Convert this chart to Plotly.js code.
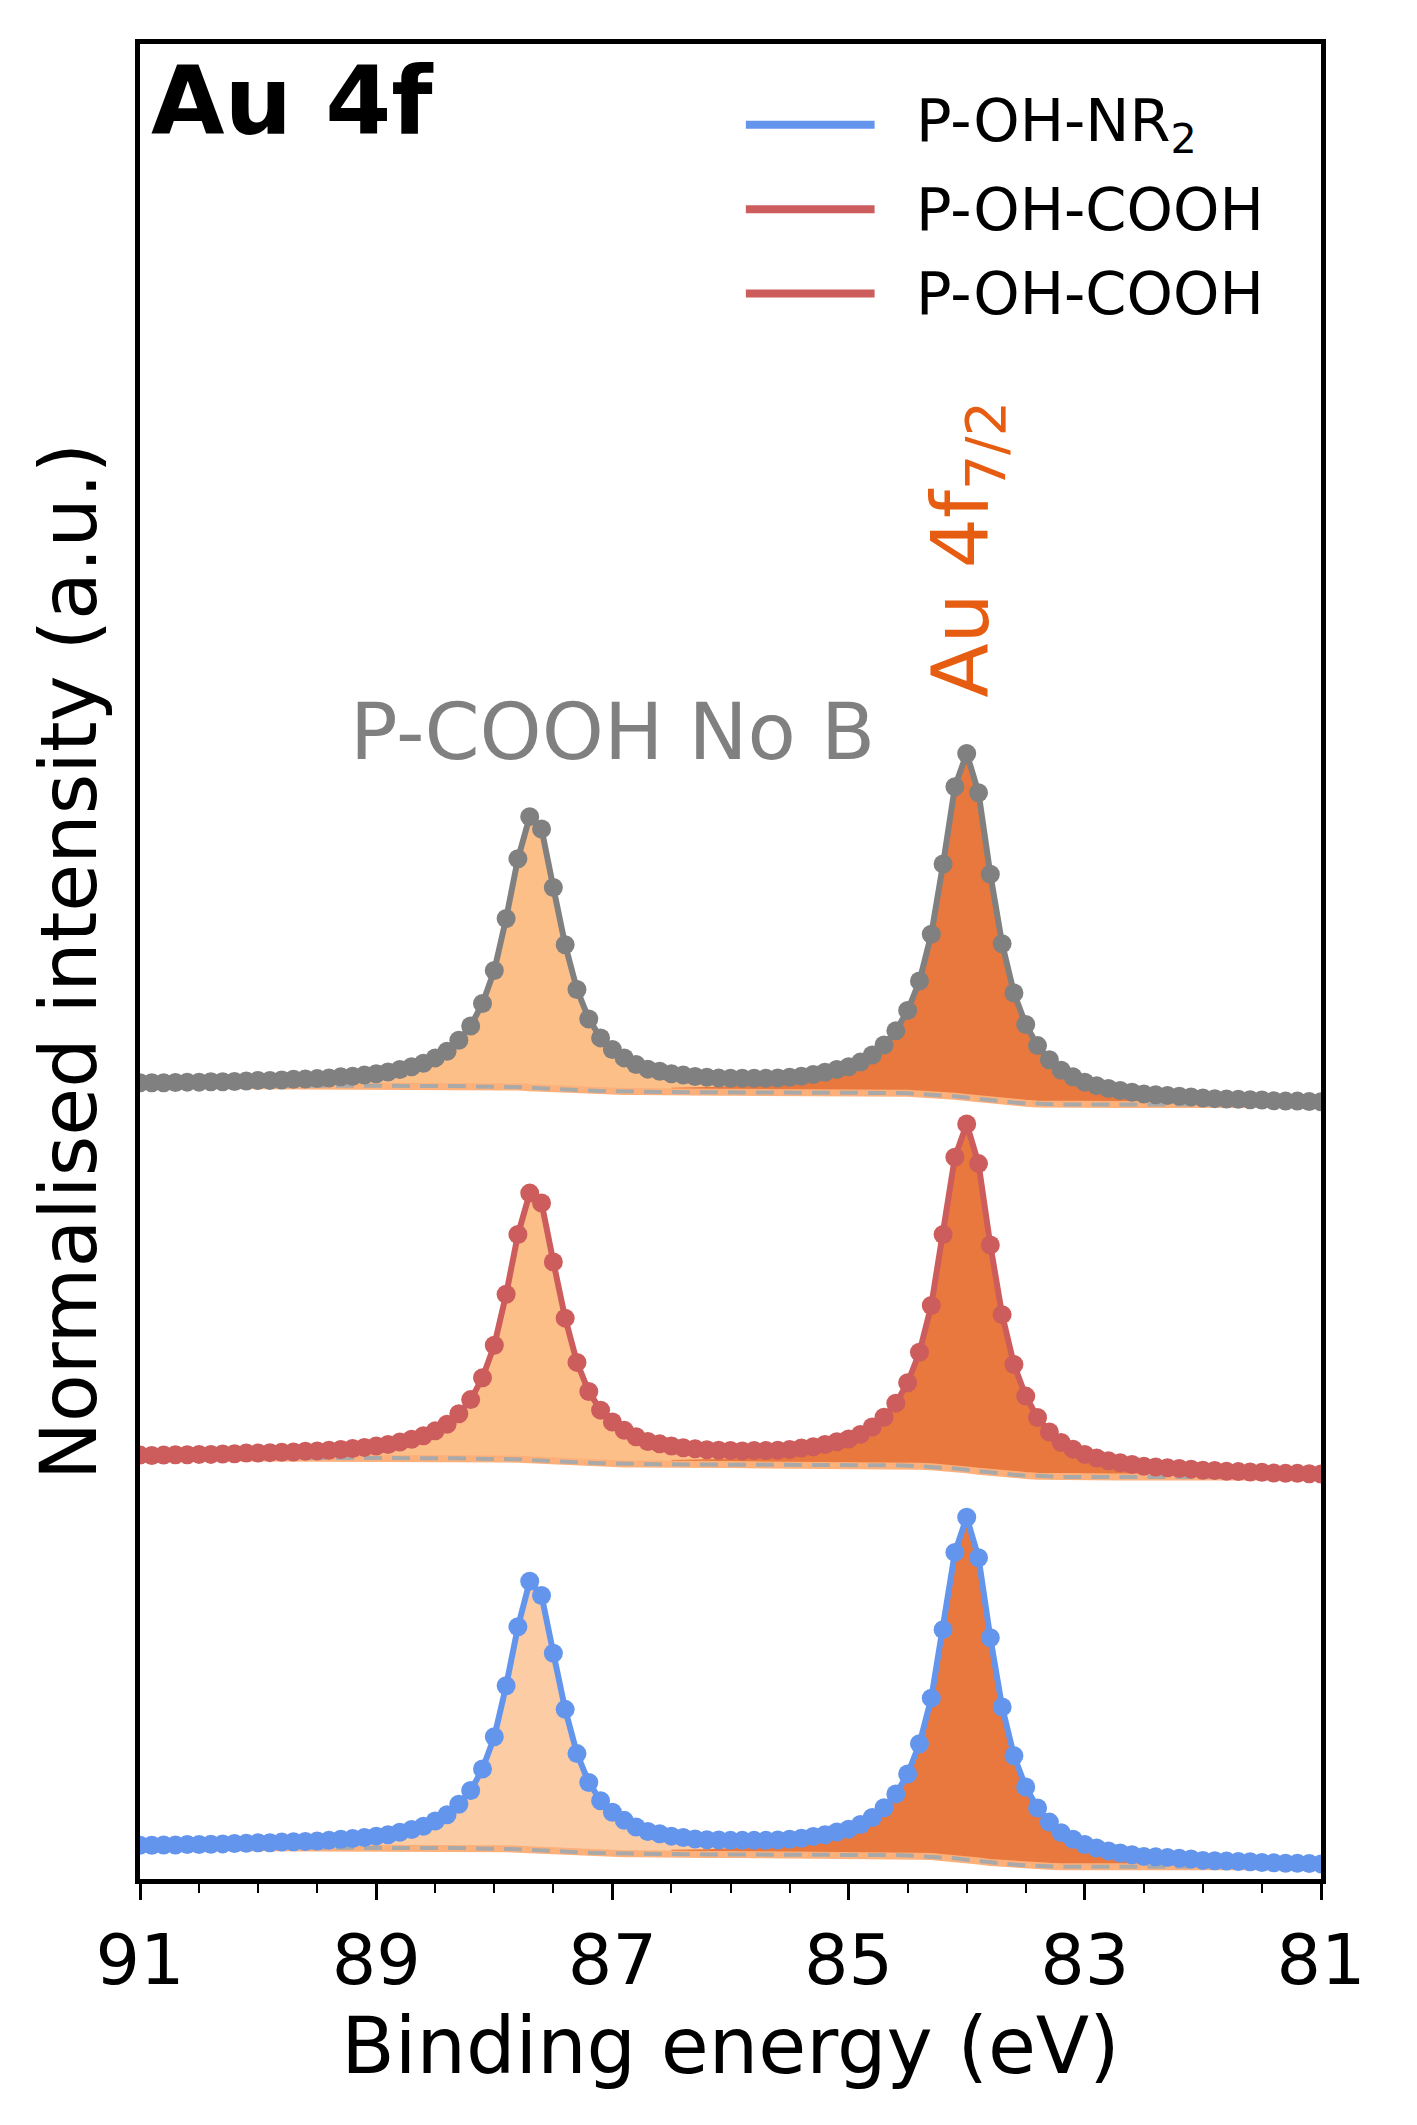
<!DOCTYPE html>
<html>
<head>
<meta charset="utf-8">
<script src="https://cdn.plot.ly/plotly-3.0.1.min.js"></script>
<style>body{margin:0;background:#fff}#plot{width:1417px;height:2125px}</style>
</head>
<body>
<div id="plot"></div>
<script>
// Binding energy grid, 91.0 -> 81.0 eV in 0.1 eV steps
const energy = Array.from({length: 101}, (_, i) => +(91 - i * 0.1).toFixed(1));

const seriesNames = ['P-OH-NR<sub>2</sub>', 'P-OH-COOH', 'P-OH-COOH'];
const seriesColors = ['#6495ed', '#cd5c5c', '#808080'];
const legendColors = ['#6495ed', '#cd5c5c', '#cd5c5c'];
const offsets = [0, 1.11, 2.17];

const dataNR2 = [
  .061,.061,.062,.062,.063,.063,.064,.065,.066,.067,
  .068,.068,.070,.071,.072,.073,.075,.078,.080,.083,
  .087,.091,.098,.106,.115,.130,.148,.178,.217,.278,
  .370,.515,.683,.813,.772,.608,.448,.322,.240,.188,
  .155,.132,.113,.100,.094,.087,.083,.079,.077,.076,
  .075,.075,.075,.075,.076,.078,.081,.086,.091,.099,
  .107,.120,.140,.168,.207,.264,.350,.480,.675,.895,
  .995,.880,.652,.455,.316,.227,.167,.127,.097,.078,
  .063,.053,.045,.039,.034,.029,.028,.026,.024,.022,
  .018,.017,.016,.015,.014,.012,.011,.010,.010,.009,
  .008
];
const dataCOOH = [
  .062,.061,.062,.063,.063,.064,.064,.065,.066,.068,
  .068,.069,.070,.071,.073,.074,.076,.078,.081,.084,
  .088,.092,.099,.107,.117,.131,.150,.180,.220,.282,
  .375,.520,.690,.808,.780,.612,.452,.326,.243,.190,
  .156,.133,.114,.101,.094,.088,.083,.080,.077,.076,
  .075,.074,.075,.075,.076,.078,.082,.086,.092,.100,
  .108,.121,.142,.170,.210,.268,.355,.488,.690,.910,
  1.005,.892,.660,.462,.320,.230,.169,.128,.098,.079,
  .064,.054,.046,.040,.035,.030,.028,.026,.024,.022,
  .019,.018,.016,.015,.014,.013,.011,.010,.010,.009,
  .008
];
const dataNoB = [
  .062,.062,.062,.063,.064,.064,.065,.065,.066,.067,
  .069,.069,.070,.072,.073,.074,.076,.079,.081,.084,
  .088,.093,.100,.108,.118,.133,.152,.183,.224,.288,
  .382,.530,.700,.820,.785,.618,.455,.328,.244,.190,
  .157,.133,.114,.101,.095,.088,.084,.080,.078,.076,
  .075,.075,.075,.075,.076,.078,.081,.086,.092,.100,
  .108,.121,.141,.170,.210,.268,.352,.485,.685,.905,
  1.000,.888,.656,.458,.318,.228,.168,.128,.098,.079,
  .064,.054,.046,.040,.035,.030,.028,.026,.024,.022,
  .019,.017,.016,.015,.014,.013,.011,.010,.010,.009,
  .008
];
const seriesData = [dataNR2, dataCOOH, dataNoB];

// Shirley background (shared)
const background = [
  .055,.055,.055,.055,.055,.055,.055,.055,.055,.055,
  .055,.055,.055,.055,.055,.055,.055,.055,.055,.055,
  .055,.055,.055,.054,.054,.054,.053,.053,.052,.052,
  .052,.051,.050,.048,.046,.044,.042,.041,.040,.039,
  .038,.037,.037,.036,.036,.036,.035,.035,.035,.035,
  .035,.035,.035,.035,.035,.035,.035,.035,.035,.035,
  .035,.034,.034,.033,.033,.032,.030,.029,.027,.024,
  .020,.016,.012,.009,.006,.004,.002,.001,0,0,
  0,0,0,0,0,0,0,0,0,0,
  0,0,0,0,0,0,0,0,0,0,
  0
];

// Au 4f5/2 component (background + peak), 89.5 -> 85.5 eV
const comp52Start = 15;
const comp52 = [
  .071,.073,.076,.078,.081,.084,.089,.096,.104,.113,
  .127,.145,.175,.214,.275,.368,.513,.680,.810,.769,
  .605,.442,.318,.234,.182,.146,.122,.102,.090,.081,
  .075,.069,.065,.062,.060,.058,.056,.054,.053,.051,
  .050
];
// Au 4f7/2 component (background + peak), 86.5 -> 81.5 eV
const comp72Start = 45;
const comp72 = [
  .048,.048,.049,.050,.051,.052,.053,.055,.057,.059,
  .064,.068,.074,.080,.088,.098,.112,.131,.159,.198,
  .255,.340,.475,.667,.887,.990,.879,.652,.455,.316,
  .227,.167,.127,.097,.078,.063,.053,.045,.039,.034,
  .029,.027,.025,.023,.021,.018,.016,.015,.014,.013,
  .012
];
const fill52Colors = ['#fccda4', '#fcbf88', '#fcbf88'];
const fill72Color = '#e9783e';

function areaTrace(start, top, off, color) {
  const xs = energy.slice(start, start + top.length);
  const base = background.slice(start, start + top.length);
  return {
    x: xs.concat(xs.slice().reverse()),
    y: top.map(v => v + off).concat(base.map(v => v + off).reverse()),
    mode: 'lines', fill: 'toself', fillcolor: color,
    line: { width: 0 }, hoverinfo: 'skip', showlegend: false,
  };
}

function buildData() {
  const traces = [];
  for (let s = 0; s < 3; s++) {
    const off = offsets[s];
    traces.push(areaTrace(comp52Start, comp52, off, fill52Colors[s]));
    traces.push(areaTrace(comp72Start, comp72, off, fill72Color));
    traces.push({
      x: energy, y: background.map(v => v + off), mode: 'lines',
      line: { color: '#fdb07a', width: 7 }, hoverinfo: 'skip', showlegend: false,
    });
    traces.push({
      x: energy, y: background.map(v => v + off), mode: 'lines',
      line: { color: '#a9a9a9', width: 4, dash: '18px,10px' }, hoverinfo: 'skip', showlegend: false,
    });
    traces.push({
      x: energy, y: seriesData[s].map(v => v + off), mode: 'lines+markers',
      line: { color: seriesColors[s], width: 6 },
      marker: { color: seriesColors[s], size: 19 },
      hoverinfo: 'skip', showlegend: false,
    });
  }
  return traces;
}

// hand-placed legend (matplotlib style, long handles)
const legendY = [0.956, 0.910, 0.864];
const legendShapes = legendY.map((y, i) => ({
  type: 'line', xref: 'paper', yref: 'paper', x0: 0.513, x1: 0.622, y0: y, y1: y,
  line: { color: legendColors[i], width: 8 },
}));
const legendLabels = legendY.map((y, i) => ({
  xref: 'paper', yref: 'paper', x: 0.655, y: y, xanchor: 'left', yanchor: 'middle',
  text: seriesNames[i], showarrow: false, font: { size: 59, color: '#000' },
}));

const font = 'DejaVu Sans, sans-serif';
const layout = {
  width: 1417, height: 2125,
  margin: { l: 140, r: 96, t: 44, b: 246 },
  paper_bgcolor: '#ffffff', plot_bgcolor: '#ffffff',
  font: { family: font, color: '#000' },
  showlegend: false,
  xaxis: {
    range: [91, 81],
    tickmode: 'array', tickvals: [91, 89, 87, 85, 83, 81],
    ticks: 'outside', ticklen: 16, tickwidth: 3, tickcolor: '#000',
    minor: { dtick: 0.5, ticks: 'outside', ticklen: 9, tickwidth: 2, tickcolor: '#000' },
    tickfont: { size: 70 },
    title: { text: 'Binding energy (eV)', font: { size: 78 }, standoff: 18 },
    showline: true, linewidth: 5, linecolor: '#000', mirror: true,
    showgrid: false, zeroline: false,
  },
  yaxis: {
    range: [-0.035, 5.19],
    showticklabels: false, ticks: '',
    title: { text: 'Normalised intensity (a.u.)', font: { size: 78 }, standoff: 14 },
    showline: true, linewidth: 5, linecolor: '#000', mirror: true,
    showgrid: false, zeroline: false,
  },
  shapes: legendShapes,
  annotations: legendLabels.concat([
    { xref: 'paper', yref: 'paper', x: 0.008, y: 1.0, xanchor: 'left', yanchor: 'top',
      text: '<b>Au 4f</b>', showarrow: false, font: { size: 95, color: '#000' } },
    { x: 87.0, y: 3.23, text: 'P-COOH No B', showarrow: false,
      font: { size: 79, color: '#808080' } },
    { x: 84.0, y: 3.75, text: 'Au 4f<sub>7/2</sub>', textangle: -90, showarrow: false,
      font: { size: 79, color: '#e65c10' } },
  ]),
};

Plotly.newPlot('plot', buildData(), layout, { displayModeBar: false, staticPlot: true });
</script>
</body>
</html>
